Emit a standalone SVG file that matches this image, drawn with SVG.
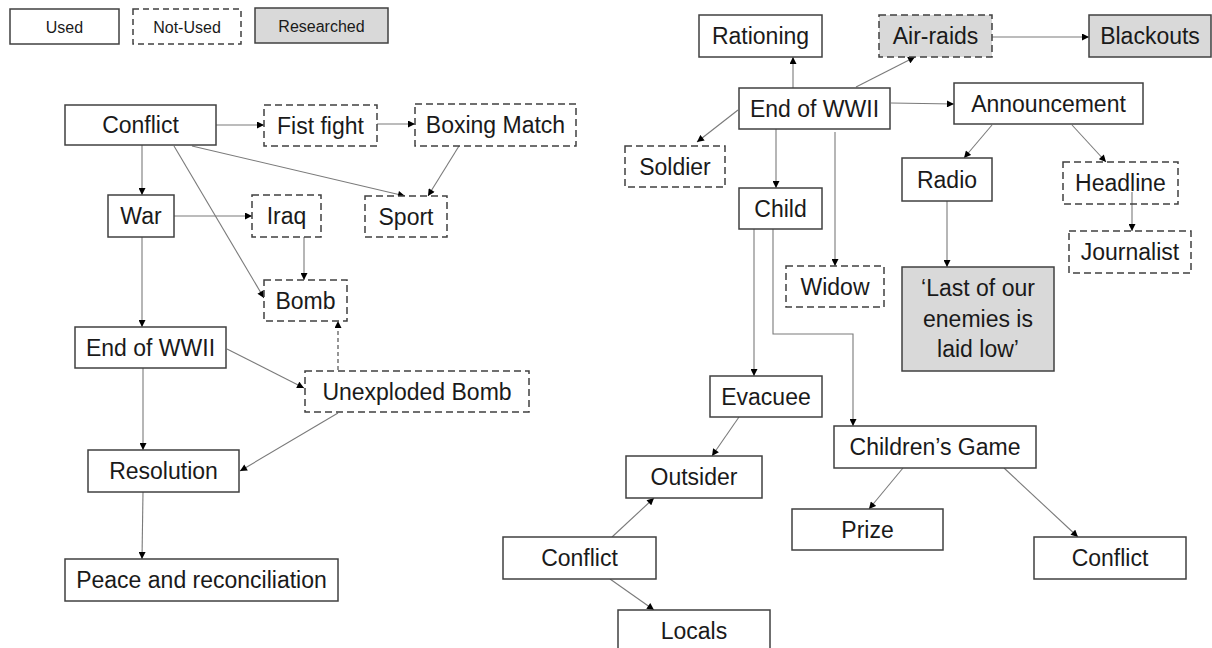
<svg xmlns="http://www.w3.org/2000/svg" width="1212" height="648" viewBox="0 0 1212 648">
  <style>
    .box { fill: #ffffff; stroke: #404040; stroke-width: 1.5; }
    .dash { stroke-dasharray: 7 4; }
    .res { fill: #d9d9d9; }
    .lbl { font-family: "Liberation Sans", Arial, sans-serif; font-size: 23px; fill: #1a1a1a; text-anchor: middle; }
    .key { font-family: "Liberation Sans", Arial, sans-serif; font-size: 16px; fill: #1a1a1a; text-anchor: middle; }
    .edge { fill: none; stroke: #7a7a7a; stroke-width: 1.1; marker-end: url(#arrow); }
    .edge-dash { stroke: #404040; stroke-dasharray: 4 3; }
  </style>
  <defs>
    <marker id="arrow" viewBox="0 0 10 10" refX="10" refY="5" markerWidth="8" markerHeight="7" markerUnits="userSpaceOnUse" orient="auto">
      <path d="M0,0 L10,5 L0,10 z" fill="#000000"/>
    </marker>
  </defs>
  <rect width="1212" height="648" fill="#ffffff"/>

  <!-- key -->
  <g id="key-used">
    <rect class="box" x="10" y="9" width="109" height="35"/>
    <text class="key" x="64.5" y="32.5">Used</text>
  </g>
  <g id="key-not-used">
    <rect class="box dash" x="133" y="9" width="108" height="35" style="stroke-dasharray:6 4"/>
    <text class="key" x="187" y="32.5">Not-Used</text>
  </g>
  <g id="key-researched">
    <rect class="box res" x="255" y="8" width="133" height="35"/>
    <text class="key" x="321.5" y="31.5">Researched</text>
  </g>

  <!-- connectors -->
  <g id="connectors">
    <line class="edge" x1="216" y1="125" x2="264" y2="125"/>
    <line class="edge" x1="377" y1="124" x2="415" y2="124"/>
    <line class="edge" x1="142" y1="145" x2="142" y2="195"/>
    <line class="edge" x1="192" y1="146" x2="405" y2="196"/>
    <line class="edge" x1="459" y1="146" x2="428" y2="196"/>
    <line class="edge" x1="174" y1="146" x2="264" y2="298"/>
    <line class="edge" x1="174" y1="216" x2="252" y2="216"/>
    <line class="edge" x1="304" y1="237" x2="304" y2="280"/>
    <line class="edge" x1="142" y1="237" x2="142" y2="327"/>
    <line class="edge" x1="227" y1="349" x2="304" y2="388"/>
    <line class="edge edge-dash" x1="338" y1="370" x2="338" y2="321"/>
    <line class="edge" x1="143" y1="368" x2="143" y2="450"/>
    <line class="edge" x1="338" y1="413" x2="240" y2="471"/>
    <line class="edge" x1="143" y1="492" x2="142" y2="559"/>

    <line class="edge" x1="793" y1="88" x2="793" y2="57"/>
    <line class="edge" x1="856" y1="87" x2="915" y2="57"/>
    <line class="edge" x1="992" y1="37" x2="1089" y2="37"/>
    <line class="edge" x1="891" y1="103" x2="954" y2="104"/>
    <line class="edge" x1="738" y1="110" x2="697" y2="142"/>
    <line class="edge" x1="776" y1="129" x2="776" y2="188"/>
    <line class="edge" x1="835" y1="132" x2="835" y2="266"/>
    <line class="edge" x1="992" y1="125" x2="964" y2="158"/>
    <line class="edge" x1="1072" y1="125" x2="1106" y2="162"/>
    <line class="edge" x1="1132" y1="192" x2="1132" y2="231"/>
    <line class="edge" x1="947" y1="201" x2="947" y2="267"/>
    <line class="edge" x1="754" y1="229" x2="754" y2="376"/>
    <polyline class="edge" points="773,229 773,334 853,334 853,426"/>
    <line class="edge" x1="739" y1="417" x2="712" y2="456"/>
    <line class="edge" x1="903" y1="468" x2="869" y2="509"/>
    <line class="edge" x1="1004" y1="468" x2="1078" y2="537"/>
    <line class="edge" x1="612" y1="537" x2="654" y2="498"/>
    <line class="edge" x1="610" y1="579" x2="654" y2="610"/>
  </g>

  <!-- left map -->
  <g id="conflict-a">
    <rect class="box" x="65" y="105" width="151" height="40"/>
    <text class="lbl" x="140.5" y="133">Conflict</text>
  </g>
  <g id="fist-fight">
    <rect class="box dash" x="264" y="105" width="113" height="41"/>
    <text class="lbl" x="320.5" y="133.5">Fist fight</text>
  </g>
  <g id="boxing-match">
    <rect class="box dash" x="415" y="104" width="161" height="42"/>
    <text class="lbl" x="495.5" y="133">Boxing Match</text>
  </g>
  <g id="war">
    <rect class="box" x="108" y="195" width="66" height="42"/>
    <text class="lbl" x="141" y="224">War</text>
  </g>
  <g id="iraq">
    <rect class="box dash" x="252" y="195" width="69" height="42"/>
    <text class="lbl" x="286.5" y="224">Iraq</text>
  </g>
  <g id="sport">
    <rect class="box dash" x="365" y="196" width="82" height="41"/>
    <text class="lbl" x="406" y="224.5">Sport</text>
  </g>
  <g id="bomb">
    <rect class="box dash" x="264" y="280" width="83" height="41"/>
    <text class="lbl" x="305.5" y="308.5">Bomb</text>
  </g>
  <g id="end-wwii-a">
    <rect class="box" x="75" y="327" width="151" height="41"/>
    <text class="lbl" x="150.5" y="355.5">End of WWII</text>
  </g>
  <g id="unexploded-bomb">
    <rect class="box dash" x="305" y="371" width="224" height="41"/>
    <text class="lbl" x="417" y="399.5">Unexploded Bomb</text>
  </g>
  <g id="resolution">
    <rect class="box" x="88" y="450" width="151" height="42"/>
    <text class="lbl" x="163.5" y="479">Resolution</text>
  </g>
  <g id="peace">
    <rect class="box" x="65" y="559" width="273" height="42"/>
    <text class="lbl" x="201.5" y="588">Peace and reconciliation</text>
  </g>

  <!-- right map -->
  <g id="rationing">
    <rect class="box" x="699" y="15" width="123" height="42"/>
    <text class="lbl" x="760.5" y="44">Rationing</text>
  </g>
  <g id="air-raids">
    <rect class="box dash res" x="879" y="15" width="113" height="42"/>
    <text class="lbl" x="935.5" y="44">Air-raids</text>
  </g>
  <g id="blackouts">
    <rect class="box res" x="1089" y="15" width="122" height="42"/>
    <text class="lbl" x="1150" y="44">Blackouts</text>
  </g>
  <g id="end-wwii-b">
    <rect class="box" x="739" y="88" width="151" height="41"/>
    <text class="lbl" x="814.5" y="116.5">End of WWII</text>
  </g>
  <g id="announcement">
    <rect class="box" x="954" y="83" width="189" height="41"/>
    <text class="lbl" x="1048.5" y="111.5">Announcement</text>
  </g>
  <g id="soldier">
    <rect class="box dash" x="625" y="146" width="100" height="41"/>
    <text class="lbl" x="675" y="174.5">Soldier</text>
  </g>
  <g id="radio">
    <rect class="box" x="902" y="158" width="90" height="43"/>
    <text class="lbl" x="947" y="187.5">Radio</text>
  </g>
  <!-- the Journalist link starts inside this box and runs over its label -->
  <g id="headline">
    <rect class="box dash" x="1063" y="162" width="115" height="42" style="fill:none"/>
    <text class="lbl" x="1120.5" y="191">Headline</text>
  </g>
  <g id="child">
    <rect class="box" x="739" y="188" width="83" height="41"/>
    <text class="lbl" x="780.5" y="216.5">Child</text>
  </g>
  <g id="journalist">
    <rect class="box dash" x="1069" y="231" width="122" height="42"/>
    <text class="lbl" x="1130" y="260">Journalist</text>
  </g>
  <g id="widow">
    <rect class="box dash" x="786" y="266" width="98" height="41"/>
    <text class="lbl" x="835" y="294.5">Widow</text>
  </g>
  <g id="broadcast-quote">
    <rect class="box res" x="902" y="267" width="152" height="104"/>
    <text class="lbl" x="978" y="296">‘Last of our</text>
    <text class="lbl" x="978" y="327">enemies is</text>
    <text class="lbl" x="978" y="357">laid low’</text>
  </g>
  <g id="evacuee">
    <rect class="box" x="710" y="376" width="112" height="41"/>
    <text class="lbl" x="766" y="404.5">Evacuee</text>
  </g>
  <g id="childrens-game">
    <rect class="box" x="834" y="426" width="202" height="42"/>
    <text class="lbl" x="935" y="455">Children’s Game</text>
  </g>
  <g id="outsider">
    <rect class="box" x="626" y="456" width="136" height="42"/>
    <text class="lbl" x="694" y="485">Outsider</text>
  </g>
  <g id="prize">
    <rect class="box" x="792" y="509" width="151" height="41"/>
    <text class="lbl" x="867.5" y="537.5">Prize</text>
  </g>
  <g id="conflict-b">
    <rect class="box" x="503" y="537" width="153" height="42"/>
    <text class="lbl" x="579.5" y="566">Conflict</text>
  </g>
  <g id="conflict-c">
    <rect class="box" x="1034" y="537" width="152" height="42"/>
    <text class="lbl" x="1110" y="566">Conflict</text>
  </g>
  <g id="locals">
    <rect class="box" x="618" y="610" width="152" height="42"/>
    <text class="lbl" x="694" y="639">Locals</text>
  </g>
</svg>
